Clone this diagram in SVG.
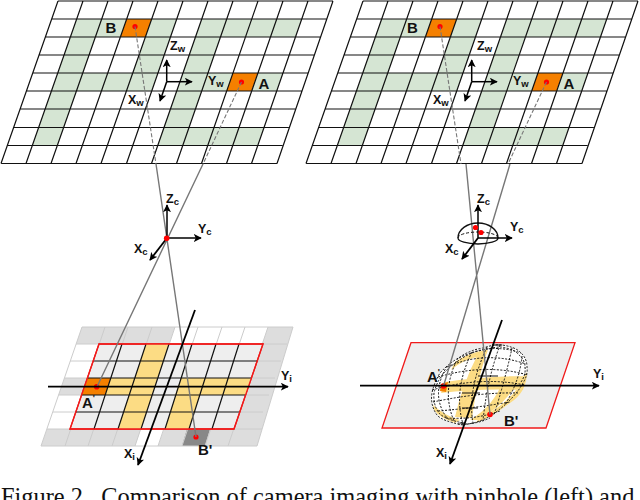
<svg xmlns="http://www.w3.org/2000/svg" width="640" height="500" viewBox="0 0 640 500">
<style>
text{font-family:"Liberation Sans",Arial,sans-serif;font-weight:bold;fill:#111}
.big{font-size:15px}.ax{font-size:12.5px}.sub{font-size:9.5px}
.g{fill:#d5e5d3}.o{fill:#f58000}.dot{fill:#f00}
.grid{stroke:#111;stroke-width:1.2;fill:none}
.axis{stroke:#000;stroke-width:1.5;fill:none;marker-end:url(#ah)}
.iaxis{stroke:#000;stroke-width:1.8;fill:none;marker-end:url(#ah2)}
.dash{stroke:#777;stroke-width:1.1;stroke-dasharray:4 2;fill:none}
.ray{stroke:#777;stroke-width:1.4;fill:none}
.lg{fill:#ddd}.y{fill:#fcdc84}
.lgrid{stroke:#ccc;stroke-width:1;fill:none}
.red{fill:#eee;stroke:#f01a1a;stroke-width:1.3}
.d{stroke:#111;stroke-width:1;stroke-dasharray:2 1.5;fill:none}
</style>
<defs>
<marker id="ah" viewBox="0 0 10 10" refX="9" refY="5" markerWidth="8" markerHeight="8" markerUnits="userSpaceOnUse" orient="auto"><path d="M0,0L10,5L0,10L2.5,5Z" fill="#000"/></marker>
<marker id="ah2" viewBox="0 0 10 10" refX="9" refY="5" markerWidth="8" markerHeight="8" markerUnits="userSpaceOnUse" orient="auto"><path d="M0,0L10,5L0,10L2.5,5Z" fill="#000"/></marker>
<g id="plane">
<path class="g" d="M76.7,19H126.7L120.4,37H70.4ZM151.7,19H176.7L170.4,37H145.4ZM201.7,19H301.7L295.4,37H195.4ZM70.4,37H95.4L82.8,73H57.8ZM145.4,37H170.4L157.8,73H132.8ZM195.4,37H220.4L207.8,73H182.8ZM57.8,73H157.8L151.5,91H51.5ZM182.8,73H232.8L226.5,91H176.5ZM257.8,73H282.8L276.5,91H251.5ZM51.5,91H76.5L57.4,145.5H32.4ZM176.5,91H201.5L188.7,127.5H163.7ZM163.7,127.5H263.7L257.4,145.5H157.4Z"/>
<path class="o" d="M126.7,19H151.7L145.4,37H120.4ZM232.8,73H257.8L251.5,91H226.5Z"/>
<path class="grid" d="M58,1H333M51.7,19H326.7M45.4,37H320.4M39.1,55H314.1M32.8,73H307.8M26.5,91H301.5M20.2,109H295.2M13.7,127.5H288.7M7.4,145.5H282.4M1.1,163.5H277M58,1L1,163.5M83,1L26,163.5M108,1L51,163.5M133,1L76,163.5M158,1L101,163.5M183,1L126.5,163.5M208,1L151.5,163.5M233,1L176.5,163.5M258,1L201.5,163.5M283,1L226.5,163.5M308,1L251.5,163.5M333,1L277,163.5"/>
<circle class="dot" cx="135" cy="26.5" r="2.6"/><circle class="dot" cx="241.5" cy="82" r="2.6"/>
<path class="axis" d="M166.7,81.7V60"/><path class="axis" d="M166.7,81.7H192"/><path class="axis" d="M166.7,81.7L160,101"/>
<path class="dash" d="M135,26.5L156,164M241.5,82L203,164"/>
</g>
</defs>

<g id="world-plane-left"><use href="#plane"/>
<text class="big" x="105.5" y="33">B</text><text class="big" x="258.5" y="88.5">A</text>
<text class="ax" x="170" y="50">Z<tspan class="sub" dy="2">w</tspan></text>
<text class="ax" x="208" y="85">Y<tspan class="sub" dy="2">w</tspan></text>
<text class="ax" x="128" y="104">X<tspan class="sub" dy="2">w</tspan></text></g>
<g id="world-plane-right"><use href="#plane" x="305"/>
<text class="big" x="407" y="33">B</text><text class="big" x="563.5" y="88.5">A</text>
<text class="ax" x="477" y="50">Z<tspan class="sub" dy="2">w</tspan></text>
<text class="ax" x="513" y="85">Y<tspan class="sub" dy="2">w</tspan></text>
<text class="ax" x="433" y="104">X<tspan class="sub" dy="2">w</tspan></text></g>

<g id="image-plane-left">
<path class="lg" d="M82,327H175L169,344H76ZM47,429H141L135,446H41ZM164,429H262L257,446H158ZM268,327H293L257,446H228ZM64.4,378H90L84,395H58.6Z"/>
<path fill="#888" d="M187,429H210L205,446H182Z"/>
<path class="lgrid" d="M82,327H293M76,344H287M70,361H281M64.4,378H275M58.6,395H269M53,412H263M47,429H262M41,446H257M82,327L41,446M105,327L65,446M128,327L88,446M152,327L112,446M175,327L135,446M198,327L158,446M222,327L182,446M245,327L205,446M268,327L228,446M293,327L257,446"/>
<path class="red" d="M99,344H263L234,429H70Z"/>
<path class="y" d="M146,344H169L141,429H118ZM181,378H205L189,429H165ZM111,378H157L151,395H105ZM181,378H251.4L245.6,395H175Z"/>
<path class="o" d="M87.4,378H110.8L105,395H81.6Z"/>
<path class="grid" d="M93.2,361H257.2M87.4,378H251.4M81.6,395H245.6M75.8,412H239.8M122,344L94,429M146,344L118,429M169,344L141,429M192,344L165,429M216,344L189,429M239,344L212,429"/>
<path fill="none" stroke="#f01a1a" stroke-width="1.3" d="M99,344H263L234,429H70Z"/>
<circle class="dot" cx="96.7" cy="386.7" r="2.8"/><circle class="dot" cx="196" cy="437" r="2.6"/>
<text class="big" x="82" y="408">A<tspan font-size="9" dy="-7">'</tspan></text><text class="big" x="198" y="455">B'</text>
<text class="ax" x="281" y="380">Y<tspan class="sub" dy="2">i</tspan></text>
<text class="ax" x="124" y="458">X<tspan class="sub" dy="2">i</tspan></text></g>

<g id="image-plane-right">
<path class="red" d="M411,342.7H575L546,428H382Z"/>
<path fill="#fff" d="M463,425Q442,421 437,415Q430,405 432,393Q434,383 440,373Q448,364 460,357Q470,350 483,348Q495,344 502,345Q515,347 520,352Q527,358 527,367Q528,375 523,383Q518,392 510,400Q502,408 492,415Q482,421 473,423Z"/>
<path class="y" d="M455,362Q470,352 487,350L483,356Q465,358 451,370ZM478,354L488,350Q478,375 472,418L455,417Q462,385 478,354ZM433,405Q445,416 460,420L455,423Q440,418 434,410ZM445,382Q485,376 526,376L523,390Q480,388 441,393ZM503,380L518,382Q505,405 478,420L470,420Q495,405 503,380ZM524,376L527,372Q527,392 510,403Q490,418 475,423L480,418Q515,400 524,376Z"/>
<path class="o" d="M441,384L448,382L446,392L440,391Z"/>
<path class="d" d="M447,366Q430,395 447,418M458,358Q441,390 454,421M472,352Q453,390 463,424M487,347Q467,390 473,423M500,345Q487,380 483,421M512,348Q505,380 494,415M522,356Q520,380 505,405M459,358Q490,342 521,353M447,367Q485,350 526,364M438,377Q485,363 528,375M432,390Q480,376 525,385M433,402Q480,392 518,393M438,411Q475,408 510,402M446,418Q475,420 500,411M458,424Q475,425 490,418"/>
<path class="d" d="M463,425Q442,421 437,415Q430,405 432,393Q434,383 440,373Q448,364 460,357Q470,350 483,348Q495,344 502,345Q515,347 520,352Q527,358 527,367Q528,375 523,383Q518,392 510,400Q502,408 492,415Q482,421 473,423Z"/>
<path class="d" d="M463,423Q444,419 439,413Q433,405 434,393Q436,384 442,375Q450,366 461,359Q471,352 483,350Q495,347 501,347Q514,349 518,354Q525,360 525,367Q526,375 521,382"/>
<path class="grid" d="M478,376H498M462,393H480M462,408H478M460,423H465M492,345H502"/>
<circle class="dot" cx="443.5" cy="386" r="2.8"/><circle class="dot" cx="490" cy="414.5" r="2.8"/>
<text class="big" x="427" y="382">A<tspan font-size="9" dy="-7">'</tspan></text><text class="big" x="504" y="426">B'</text>
<text class="ax" x="593" y="378">Y<tspan class="sub" dy="2">i</tspan></text>
<text class="ax" x="436" y="457">X<tspan class="sub" dy="2">i</tspan></text></g>

<g id="connectors">
<path class="ray" d="M156,164L196,437M203,164L97,386.7"/>
<path class="ray" d="M466,164L490,414.5M510,164L443.5,386"/>
<path class="iaxis" d="M48,386.7H288"/><path class="iaxis" d="M195,310L138,465"/>
<path class="iaxis" d="M360,385.7H599"/><path class="iaxis" d="M502,320L450,464"/>
</g>

<g id="camera-left">
<path class="axis" d="M167,238V205"/><path class="axis" d="M167,238H201"/><path class="axis" style="stroke-width:1.8" d="M167,238L150,260"/>
<circle class="dot" cx="166.7" cy="238.3" r="2.8"/>
<text class="ax" x="166" y="203">Z<tspan class="sub" dy="2">c</tspan></text>
<text class="ax" x="198" y="233">Y<tspan class="sub" dy="2">c</tspan></text>
<text class="ax" x="134" y="253">X<tspan class="sub" dy="2">c</tspan></text></g>

<g id="camera-right">
<path fill="none" stroke="#111" stroke-width="1.3" d="M458,238A20,15 0 0 1 498,238A20,6 0 0 1 458,238"/>
<path fill="none" stroke="#111" stroke-width="1" stroke-dasharray="3 2" d="M458,238A20,6 0 0 1 498,238"/>
<path class="axis" d="M478,238V205"/><path class="axis" d="M478,238H512"/><path class="axis" style="stroke-width:1.8" d="M478,238L462,259"/>
<circle class="dot" cx="475.5" cy="227.5" r="2.6"/><circle class="dot" cx="481" cy="232.5" r="2.6"/>
<text class="ax" x="477" y="203">Z<tspan class="sub" dy="2">c</tspan></text>
<text class="ax" x="510" y="231">Y<tspan class="sub" dy="2">c</tspan></text>
<text class="ax" x="445" y="253">X<tspan class="sub" dy="2">c</tspan></text></g>

<text x="1" y="505" font-size="24.4" xml:space="preserve" style="font-family:'Liberation Serif','Times New Roman',serif;font-weight:normal">Figure 2.  Comparison of camera imaging with pinhole (left) and</text>
</svg>
